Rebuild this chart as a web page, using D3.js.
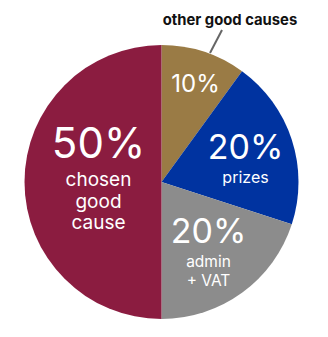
<!DOCTYPE html>
<html>
<head>
<meta charset="utf-8">
<script src="https://cdn.jsdelivr.net/npm/d3@7"></script>
<style>
  body { margin: 0; background: #fff; }
  text { font-family: "Inter", "Lato", sans-serif; }
</style>
</head>
<body>
<script>
var names = ["other good causes", "prizes", "admin + VAT", "chosen good cause"];
var shares = [10, 20, 20, 50];
var colours = ["#9a7b45", "#0033a0", "#8c8c8c", "#8b1c40"];

var width = 328, height = 337;
var cx = 161.5, cy = 182, radius = 137;

var svg = d3.select("body").append("svg")
    .attr("width", width)
    .attr("height", height);

var pie = d3.pie().sort(null).value(function(d) { return d; });
var arc = d3.arc().innerRadius(0).outerRadius(radius);
var arcs = pie(shares);

var g = svg.append("g").attr("transform", "translate(" + cx + "," + cy + ")");

g.selectAll("path")
    .data(arcs)
    .enter()
    .append("path")
    .attr("d", arc)
    .attr("fill", function(d, i) { return colours[i]; });

// label layout per slice: offset of the block, size of the % and of the sub lines
var labels = [
    { dx: 34, dy: -90, big: 24, lines: [] },
    { dx: 84, dy: -23, big: 34, small: 16, lines: ["prizes"] },
    { dx: 47, dy: 61, big: 34, small: 15.5, lines: ["admin", "+ VAT"], gap: 19 },
    { dx: -63, dy: -24, big: 42, small: 19, lines: ["chosen", "good", "cause"], gap: 21.5 }
];

labels.forEach(function(l, i) {
    var t = g.append("text")
        .attr("x", l.dx)
        .attr("y", l.dy)
        .attr("text-anchor", "middle")
        .attr("fill", "white");
    t.append("tspan")
        .attr("x", l.dx)
        .attr("font-size", l.big)
        .text(shares[i] + "%");
    l.lines.forEach(function(s, j) {
        t.append("tspan")
            .attr("x", l.dx)
            .attr("dy", j == 0 ? Math.min(l.big * 0.72, 28) : l.gap)
            .attr("font-size", l.small)
            .text(s);
    });
});

// callout for the small slice
svg.append("line")
    .attr("x1", 222).attr("y1", 30)
    .attr("x2", 210).attr("y2", 53)
    .attr("stroke", "#666")
    .attr("stroke-width", 2);

svg.append("text")
    .attr("x", 230)
    .attr("y", 25)
    .attr("text-anchor", "middle")
    .attr("font-size", 14.8)
    .attr("font-weight", "bold")
    .attr("fill", "#111")
    .text(names[0]);
</script>
</body>
</html>
